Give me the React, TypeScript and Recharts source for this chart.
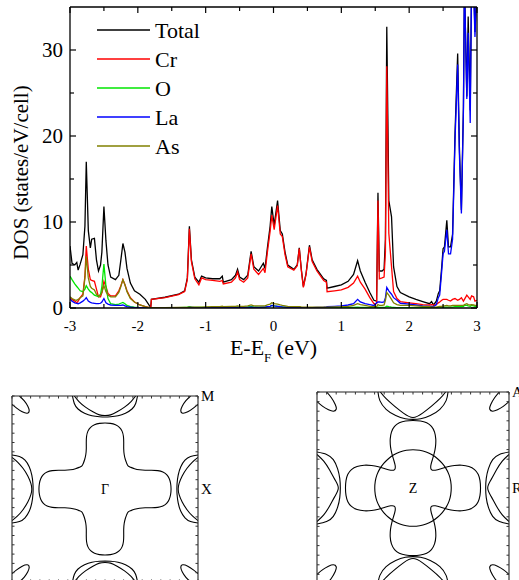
import React from 'react';
import { LineChart, Line, XAxis, YAxis, Legend, ReferenceDot } from 'recharts';

const FONT = '"Liberation Serif", "Times New Roman", serif';

// ---------------- DOS data ----------------
const energy = [
  -3.00, -2.97, -2.93, -2.90, -2.88, -2.85, -2.81, -2.78,
  -2.76, -2.73, -2.70, -2.68, -2.64, -2.61, -2.58, -2.55,
  -2.53, -2.50, -2.47, -2.44, -2.40, -2.33, -2.28, -2.25,
  -2.22, -2.19, -2.16, -2.11, -2.05, -1.97, -1.89, -1.81,
  -1.80, -1.60, -1.40, -1.31, -1.27, -1.24, -1.21, -1.16,
  -1.10, -1.06, -1.00, -0.90, -0.79, -0.755, -0.74, -0.62,
  -0.56, -0.53, -0.50, -0.44, -0.38, -0.33, -0.29, -0.22,
  -0.15, -0.125, -0.09, -0.05, -0.025, 0.01, 0.06, 0.10,
  0.13, 0.17, 0.21, 0.30, 0.35, 0.38, 0.41, 0.44,
  0.48, 0.53, 0.57, 0.64, 0.74, 0.78, 0.79, 0.90,
  1.00, 1.10, 1.18, 1.24, 1.28, 1.35, 1.42, 1.48,
  1.52, 1.54, 1.56, 1.60, 1.63, 1.65, 1.67, 1.70,
  1.74, 1.77, 1.82, 1.87, 2.00, 2.10, 2.20, 2.30,
  2.33, 2.36, 2.40, 2.43, 2.45, 2.48, 2.50, 2.52,
  2.555, 2.58, 2.61, 2.64, 2.676, 2.715, 2.74, 2.77,
  2.80, 2.815, 2.85, 2.87, 2.90, 2.92, 2.95, 2.97,
  3.00,
];

const totalDos = [
  7.2, 5.2, 5.0, 5.3, 4.4, 5.1, 6.2, 9.5,
  17.0, 9.0, 7.0, 8.0, 8.1, 5.6, 4.3, 5.0,
  6.5, 11.8, 7.8, 5.0, 3.6, 3.3, 3.8, 5.6,
  7.5, 6.5, 4.6, 2.9, 2.0, 1.6, 1.0, 0.05,
  1.0, 1.25, 1.6, 2.0, 3.5, 9.5, 5.6, 3.6,
  3.0, 3.7, 3.5, 3.4, 3.4, 3.7, 3.0, 3.3,
  3.8, 4.5, 3.6, 3.3, 3.8, 6.6, 4.8, 4.3,
  5.2, 4.6, 7.0, 9.5, 11.8, 9.6, 12.5, 9.0,
  8.6, 6.5, 5.0, 4.5, 5.0, 7.0, 4.5, 2.5,
  4.0, 7.3, 5.6, 4.5, 3.4, 3.2, 2.3, 2.5,
  2.7, 3.1, 3.9, 5.5, 4.3, 3.0, 1.8, 0.9,
  0.8, 13.4, 4.3, 4.3, 4.5, 8.0, 32.7, 12.5,
  10.6, 4.8, 2.5, 1.8, 1.3, 1.0, 0.75, 0.5,
  0.75, 0.35, 0.8, 1.7, 2.0, 4.8, 6.9, 7.1,
  10.2, 7.1, 7.1, 8.6, 20.3, 29.6, 18.8, 11.4,
  23.4, 38, 24.6, 33.9, 23.0, 38, 38, 32.1,
  38,
];

const crDos = [
  1.2, 1.0, 0.8, 0.6, 0.8, 1.2, 1.6, 3.7,
  7.2, 4.5, 3.3, 3.2, 3.1, 2.2, 1.3, 1.3,
  1.8, 3.1, 2.5, 1.7, 1.4, 1.4, 2.0, 2.6,
  3.3, 2.7, 2.0, 1.2, 0.7, 0.35, 0.15, 0.02,
  1.0, 1.2, 1.55, 1.9, 3.3, 9.2, 5.4, 3.4,
  2.7, 3.5, 3.3, 3.2, 3.1, 3.2, 2.8, 3.0,
  3.5, 4.2, 3.3, 3.0, 3.5, 6.3, 4.5, 3.9,
  4.6, 4.1, 6.5, 8.9, 10.8, 9.1, 11.9, 8.6,
  8.3, 6.2, 4.8, 4.4, 4.9, 6.9, 4.4, 2.4,
  3.9, 7.1, 5.4, 4.3, 3.2, 3.0, 1.9, 2.0,
  2.1, 2.4, 2.9, 3.7, 3.0, 2.2, 1.2, 0.5,
  0.5, 12.5, 3.4, 3.5, 3.6, 6.5, 28.1, 8.7,
  4.8, 1.9, 1.1, 0.75, 0.6, 0.5, 0.4, 0.35,
  0.4, 0.35, 0.4, 0.6, 0.7, 0.9, 1.0, 1.0,
  1.0, 0.9, 0.8, 1.0, 1.1, 0.9, 1.0, 1.2,
  0.8, 1.0, 1.5, 1.3, 1.0, 1.4, 1.3, 0.8,
  0.9,
];

const oDos = [
  3.7, 3.3, 2.8, 2.5, 2.3, 2.0, 1.9, 2.2,
  2.6, 2.2, 1.9, 1.8, 1.5, 1.4, 1.3, 1.6,
  2.5, 5.1, 2.5, 1.1, 0.5, 0.4, 0.45, 0.55,
  0.65, 0.5, 0.3, 0.15, 0.1, 0.05, 0.02, 0.0,
  0.02, 0.03, 0.05, 0.08, 0.1, 0.15, 0.1, 0.08,
  0.07, 0.07, 0.07, 0.07, 0.08, 0.1, 0.08, 0.1,
  0.1, 0.12, 0.1, 0.1, 0.12, 0.15, 0.12, 0.1,
  0.1, 0.1, 0.15, 0.2, 0.3, 0.25, 0.2, 0.15,
  0.12, 0.1, 0.08, 0.06, 0.06, 0.06, 0.05, 0.05,
  0.05, 0.05, 0.05, 0.05, 0.05, 0.05, 0.05, 0.05,
  0.05, 0.06, 0.08, 0.1, 0.08, 0.06, 0.05, 0.04,
  0.04, 0.1, 0.08, 0.08, 0.08, 0.1, 0.2, 0.15,
  0.1, 0.08, 0.05, 0.05, 0.04, 0.04, 0.04, 0.04,
  0.05, 0.05, 0.05, 0.1, 0.1, 0.1, 0.1, 0.1,
  0.1, 0.1, 0.1, 0.1, 0.15, 0.15, 0.15, 0.15,
  0.2, 0.3, 0.3, 0.25, 0.2, 0.3, 0.25, 0.2,
  0.2,
];

const laDos = [
  1.05, 0.8, 0.6, 0.55, 0.5, 0.6, 0.8, 1.0,
  1.2, 0.8, 0.65, 0.6, 0.55, 0.5, 0.5, 0.55,
  0.7, 1.1, 0.6, 0.45, 0.35, 0.3, 0.3, 0.3,
  0.35, 0.25, 0.15, 0.1, 0.05, 0.03, 0.02, 0.0,
  0.02, 0.03, 0.04, 0.05, 0.05, 0.06, 0.06, 0.05,
  0.05, 0.05, 0.05, 0.05, 0.06, 0.06, 0.06, 0.07,
  0.08, 0.08, 0.08, 0.08, 0.08, 0.1, 0.08, 0.08,
  0.1, 0.1, 0.15, 0.2, 0.3, 0.25, 0.2, 0.15,
  0.12, 0.1, 0.08, 0.06, 0.06, 0.06, 0.05, 0.05,
  0.05, 0.05, 0.05, 0.07, 0.1, 0.12, 0.15, 0.2,
  0.25, 0.35, 0.5, 1.0, 0.7, 0.5, 0.4, 0.3,
  0.6, 0.7, 0.7, 0.65, 0.7, 1.2, 2.4, 2.0,
  1.6, 1.2, 0.9, 0.55, 0.45, 0.35, 0.25, 0.2,
  0.2, 0.15, 0.4, 1.2, 1.5, 4.3, 6.3, 6.6,
  9.1, 6.3, 6.3, 8.0, 19.5, 28.3, 18.0, 11.0,
  23.0, 38, 24.3, 32.0, 21.5, 38, 37, 31.5,
  38,
];

const asDos = [
  1.3, 1.1, 0.95, 0.9, 1.0, 1.2, 1.4, 3.5,
  6.0, 3.5, 2.5, 2.3, 2.1, 1.6, 1.4, 1.5,
  1.8, 2.6, 1.9, 1.5, 1.3, 1.3, 1.8, 2.5,
  3.3, 2.7, 1.9, 1.1, 0.7, 0.35, 0.15, 0.02,
  0.03, 0.05, 0.07, 0.08, 0.08, 0.1, 0.1, 0.1,
  0.1, 0.1, 0.12, 0.15, 0.15, 0.2, 0.15, 0.2,
  0.2, 0.25, 0.2, 0.2, 0.25, 0.35, 0.25, 0.25,
  0.25, 0.25, 0.35, 0.45, 0.6, 0.5, 0.45, 0.35,
  0.3, 0.25, 0.2, 0.15, 0.15, 0.15, 0.12, 0.1,
  0.1, 0.1, 0.1, 0.1, 0.1, 0.1, 0.1, 0.12,
  0.15, 0.2, 0.3, 0.5, 0.4, 0.3, 0.2, 0.15,
  0.15, 0.4, 0.3, 0.3, 0.35, 0.9, 1.8, 1.5,
  1.0, 0.6, 0.4, 0.3, 0.3, 0.25, 0.2, 0.15,
  0.1, 0.1, 0.1, 0.15, 0.2, 0.2, 0.25, 0.25,
  0.3, 0.25, 0.25, 0.3, 0.3, 0.3, 0.3, 0.3,
  0.3, 0.4, 0.5, 0.4, 0.35, 0.4, 0.35, 0.3,
  0.3,
];

const xMajorTicks = [-3, -2, -1, 0, 1, 2, 3];
const xMinorTicks = [-2.5, -1.5, -0.5, 0.5, 1.5, 2.5];
const yMajorTicks = [0, 10, 20, 30];
const yMinorTicks = [5, 15, 25];

const seriesList = [
  { key: 'total', name: 'Total', color: '#000000' },
  { key: 'cr', name: 'Cr', color: '#ff0000' },
  { key: 'o', name: 'O', color: '#00e600' },
  { key: 'la', name: 'La', color: '#0000ff' },
  { key: 'as', name: 'As', color: '#808000' },
];

const dosData = energy.map((e, i) => ({
  e,
  total: totalDos[i],
  cr: crDos[i],
  o: oDos[i],
  la: laDos[i],
  as: asDos[i],
}));

const xTicksAll = [...xMajorTicks, ...xMinorTicks].sort((a, b) => a - b);
const yTicksAll = [...yMajorTicks, ...yMinorTicks].sort((a, b) => a - b);

// ---------------- Fermi surface data (first quadrant / half contours) ----------------
const panelTicks = [
  -1, -0.9, -0.8, -0.7, -0.6, -0.5, -0.4, -0.3, -0.2, -0.1, 0,
  0.1, 0.2, 0.3, 0.4, 0.5, 0.6, 0.7, 0.8, 0.9, 1,
];

// Gamma plane
const crossQuadrant = [
  [0.712, 0], [0.707, 0.06], [0.692, 0.115], [0.665, 0.157], [0.625, 0.186],
  [0.57, 0.2], [0.50, 0.202], [0.43, 0.2], [0.37, 0.205], [0.315, 0.218],
  [0.272, 0.235], [0.245, 0.245], [0.235, 0.272], [0.218, 0.315], [0.205, 0.37],
  [0.2, 0.43], [0.202, 0.50], [0.2, 0.57], [0.186, 0.625], [0.157, 0.665],
  [0.115, 0.692], [0.06, 0.707], [0, 0.712],
];
const gSideOuterHalf = [[1, 0.365], [0.92, 0.35], [0.86, 0.31], [0.815, 0.24], [0.787, 0.15], [0.775, 0.06], [0.773, 0]];
const gSideInnerHalf = [[1, 0.34], [0.94, 0.29], [0.88, 0.22], [0.83, 0.14], [0.797, 0.06], [0.787, 0]];
const gTopOuterHalf = [[0.35, 1], [0.33, 0.92], [0.29, 0.86], [0.22, 0.815], [0.14, 0.787], [0.06, 0.777], [0, 0.775]];
const gTopInnerHalf = [[0.33, 1], [0.28, 0.94], [0.21, 0.88], [0.13, 0.83], [0.06, 0.797], [0, 0.79]];
const gCornerPetal = [[0.92, 1], [0.87, 0.95], [0.83, 0.89], [0.815, 0.84], [0.835, 0.815], [0.89, 0.83], [0.95, 0.87], [1, 0.91]];

// Z plane
const circleQuadrant = [
  [0.40, 0], [0.395, 0.07], [0.378, 0.138], [0.348, 0.2], [0.306, 0.257], [0.257, 0.306],
  [0.2, 0.348], [0.138, 0.378], [0.07, 0.395], [0, 0.40],
];
const cloverQuadrant = [
  [0.705, 0], [0.70, 0.08], [0.682, 0.145], [0.645, 0.195], [0.585, 0.228], [0.51, 0.24],
  [0.43, 0.236], [0.36, 0.222], [0.29, 0.2], [0.23, 0.182], [0.185, 0.185], [0.182, 0.23],
  [0.2, 0.29], [0.222, 0.36], [0.236, 0.43], [0.24, 0.51], [0.228, 0.585], [0.195, 0.645],
  [0.145, 0.682], [0.08, 0.70], [0, 0.705],
];
const zSideOuterHalf = [[1, 0.375], [0.90, 0.35], [0.83, 0.295], [0.785, 0.2], [0.763, 0.1], [0.757, 0]];
const zSideInnerHalf = [[1, 0.35], [0.93, 0.28], [0.87, 0.19], [0.815, 0.09], [0.778, 0]];
const zTopOuterHalf = [[0.365, 1], [0.345, 0.91], [0.28, 0.82], [0.18, 0.755], [0.08, 0.722], [0, 0.715]];
const zTopInnerHalf = [[0.34, 1], [0.28, 0.93], [0.19, 0.85], [0.1, 0.78], [0, 0.735]];
const zCornerPetal = [[0.90, 1], [0.85, 0.94], [0.81, 0.87], [0.80, 0.82], [0.83, 0.80], [0.88, 0.815], [0.94, 0.85], [1, 0.90]];

type Pt = number[];

const closedFromQuadrant = (q: Pt[]): Pt[] => {
  const a = q.map(([u, v]) => [u, v]);
  const b = q.slice().reverse().slice(1).map(([u, v]) => [-u, v]);
  const c = q.slice(1).map(([u, v]) => [-u, -v]);
  const d = q.slice().reverse().slice(1, -1).map(([u, v]) => [u, -v]);
  return [...a, ...b, ...c, ...d];
};
const sideArc = (h: Pt[]): Pt[] => [...h, ...h.slice().reverse().slice(1).map(([u, v]) => [u, -v])];
const topArc = (h: Pt[]): Pt[] => [...h, ...h.slice().reverse().slice(1).map(([u, v]) => [-u, v])];
const flipU = (p: Pt[]): Pt[] => p.map(([u, v]) => [-u, v]);
const flipV = (p: Pt[]): Pt[] => p.map(([u, v]) => [u, -v]);

type Curve = { pts: Pt[]; closed: boolean };

const pocketSet = (sideOuter: Pt[], sideInner: Pt[], topOuter: Pt[], topInner: Pt[], petal: Pt[]): Curve[] => {
  const res: Curve[] = [];
  [sideArc(sideOuter), sideArc(sideInner)].forEach((a) => {
    res.push({ pts: a, closed: false });
    res.push({ pts: flipU(a), closed: false });
  });
  [topArc(topOuter), topArc(topInner)].forEach((a) => {
    res.push({ pts: a, closed: false });
    res.push({ pts: flipV(a), closed: false });
  });
  [petal, flipU(petal), flipV(petal), flipU(flipV(petal))].forEach((a) => res.push({ pts: a, closed: false }));
  return res;
};

const gammaCurves: Curve[] = [
  { pts: closedFromQuadrant(crossQuadrant), closed: true },
  ...pocketSet(gSideOuterHalf, gSideInnerHalf, gTopOuterHalf, gTopInnerHalf, gCornerPetal),
];
const zCurves: Curve[] = [
  { pts: closedFromQuadrant(cloverQuadrant), closed: true },
  { pts: closedFromQuadrant(circleQuadrant), closed: true },
  ...pocketSet(zSideOuterHalf, zSideInnerHalf, zTopOuterHalf, zTopInnerHalf, zCornerPetal),
];

const gammaLabels = [
  { u: 0, v: 0, text: 'Γ', side: 'center' },
  { u: 1, v: 0, text: 'X', side: 'right' },
  { u: 1, v: 1, text: 'M', side: 'right' },
];
const zLabels = [
  { u: 0, v: 0, text: 'Z', side: 'center' },
  { u: 1, v: 0, text: 'R', side: 'right' },
  { u: 1, v: 1, text: 'A', side: 'right' },
];

// ---------------- tick renderers ----------------
const TICK_STROKE = '#000';

const BottomTick = (props: any) => {
  const { x, y, payload } = props;
  const major = xMajorTicks.includes(payload.value);
  return (
    <g>
      <line x1={x} x2={x} y1={y} y2={y - (major ? 6 : 4)} stroke={TICK_STROKE} strokeWidth={1.2} />
      {major && (
        <text x={x} y={y + 23} textAnchor="middle" fontSize={15} fontFamily={FONT} fill="#000">
          {String(payload.value)}
        </text>
      )}
    </g>
  );
};
const TopTick = (props: any) => {
  const { x, y, payload } = props;
  const major = xMajorTicks.includes(payload.value);
  return <line x1={x} x2={x} y1={y} y2={y + (major ? 6 : 4)} stroke={TICK_STROKE} strokeWidth={1.2} />;
};
const LeftTick = (props: any) => {
  const { x, y, payload } = props;
  const major = yMajorTicks.includes(payload.value);
  return (
    <g>
      <line x1={x} x2={x + (major ? 6 : 4)} y1={y} y2={y} stroke={TICK_STROKE} strokeWidth={1.2} />
      {major && (
        <text x={x - 7} y={y} dy="0.34em" textAnchor="end" fontSize={21} fontFamily={FONT} fill="#000">
          {String(payload.value)}
        </text>
      )}
    </g>
  );
};
const RightTick = (props: any) => {
  const { x, y, payload } = props;
  const major = yMajorTicks.includes(payload.value);
  return <line x1={x} x2={x - (major ? 6 : 4)} y1={y} y2={y} stroke={TICK_STROKE} strokeWidth={1.2} />;
};

const YTitle = (props: any) => {
  const { viewBox } = props;
  const cx = viewBox.x + 28;
  const cy = viewBox.y + viewBox.height / 2 + 15;
  return (
    <text x={cx} y={cy} transform={`rotate(-90, ${cx}, ${cy})`} textAnchor="middle" fontSize={21} fontFamily={FONT} fill="#000">
      DOS (states/eV/cell)
    </text>
  );
};
const XTitle = (props: any) => {
  const { viewBox } = props;
  const cx = viewBox.x + viewBox.width / 2;
  const cy = viewBox.y + 47;
  return (
    <text x={cx} y={cy} textAnchor="middle" fontSize={22} fontFamily={FONT} fill="#000">
      <tspan>E-E</tspan>
      <tspan fontSize={13} dy={7}>F</tspan>
      <tspan dy={-7}> (eV)</tspan>
    </text>
  );
};

const LegendBox = () => (
  <div style={{ display: 'flex', flexDirection: 'column' }}>
    {seriesList.map((s) => (
      <div key={s.key} style={{ display: 'flex', alignItems: 'center', height: 29 }}>
        <svg width={53} height={4} style={{ display: 'block' }}>
          <line x1={0} x2={53} y1={2} y2={2} stroke={s.color} strokeWidth={1.6} />
        </svg>
        <span style={{ marginLeft: 5, fontSize: 22, fontFamily: FONT, color: '#000', lineHeight: '25px' }}>{s.name}</span>
      </div>
    ))}
  </div>
);

// ---------------- Fermi panel ----------------
const PanelTick = (props: any) => {
  const { x, y, side } = props;
  const len = 2.5;
  let x2 = x, y2 = y;
  if (side === 'bottom') y2 = y - len;
  if (side === 'top') y2 = y + len;
  if (side === 'left') x2 = x + len;
  if (side === 'right') x2 = x - len;
  return <line x1={x} y1={y} x2={x2} y2={y2} stroke="#333" strokeWidth={1} />;
};

const PanelLabel = (props: any) => {
  const { viewBox, text, side } = props;
  const cx = viewBox.x + viewBox.width / 2;
  const cy = viewBox.y + viewBox.height / 2;
  const right = side === 'right';
  return (
    <text x={right ? cx + 3 : cx} y={cy} dy="0.34em" textAnchor={right ? 'start' : 'middle'}
      fontSize={right ? 15 : 14} fontFamily={FONT} fill="#000">
      {text}
    </text>
  );
};

function FermiPanel({ curves, labels, width, height, margin }: any) {
  const axisLine = { stroke: '#222', strokeWidth: 1.1 };
  return (
    <LineChart width={width} height={height} margin={margin}>
      <XAxis xAxisId="b" type="number" dataKey="u" domain={[-1, 1]} ticks={panelTicks} interval={0} height={1}
        axisLine={axisLine} tickLine={false} tickSize={0} tickMargin={0} tick={<PanelTick side="bottom" />} allowDataOverflow />
      <XAxis xAxisId="t" orientation="top" type="number" dataKey="u" domain={[-1, 1]} ticks={panelTicks} interval={0} height={1}
        axisLine={axisLine} tickLine={false} tickSize={0} tickMargin={0} tick={<PanelTick side="top" />} allowDataOverflow />
      <YAxis yAxisId="l" type="number" domain={[-1, 1]} ticks={panelTicks} interval={0} width={1}
        axisLine={axisLine} tickLine={false} tickSize={0} tickMargin={0} tick={<PanelTick side="left" />} allowDataOverflow />
      <YAxis yAxisId="r" orientation="right" type="number" domain={[-1, 1]} ticks={panelTicks} interval={0} width={1}
        axisLine={axisLine} tickLine={false} tickSize={0} tickMargin={0} tick={<PanelTick side="right" />} allowDataOverflow />
      {curves.map((c: Curve, i: number) => (
        <Line key={i} xAxisId="b" yAxisId="l" data={c.pts.map(([u, v]) => ({ u, v }))} dataKey="v"
          type={c.closed ? 'basisClosed' : 'natural'} stroke="#000" strokeWidth={1.1} dot={false}
          activeDot={false} isAnimationActive={false} />
      ))}
      {labels.map((l: any) => (
        <ReferenceDot key={l.text} xAxisId="b" yAxisId="l" x={l.u} y={l.v} r={0} fill="none" stroke="none"
          ifOverflow="visible" label={<PanelLabel text={l.text} side={l.side} />} />
      ))}
    </LineChart>
  );
}

export default function App() {
  const axisLine = { stroke: '#000', strokeWidth: 1.3 };
  return (
    <div style={{ position: 'absolute', left: 0, top: 0, width: 519, height: 580, overflow: 'hidden', background: '#fff' }}>
      <div style={{ position: 'absolute', left: 0, top: 0 }}>
        <LineChart width={519} height={380} data={dosData} margin={{ top: 6, right: 41, bottom: 42, left: 0 }}>
          <XAxis type="number" dataKey="e" domain={[-3, 3]} ticks={xTicksAll} interval={0} height={30}
            axisLine={axisLine} tickLine={false} tickSize={0} tickMargin={0} tick={<BottomTick />}
            allowDataOverflow label={<XTitle />} />
          <XAxis xAxisId="top" orientation="top" type="number" dataKey="e" domain={[-3, 3]} ticks={xTicksAll} interval={0}
            height={1} axisLine={axisLine} tickLine={false} tickSize={0} tickMargin={0} tick={<TopTick />} allowDataOverflow />
          <YAxis type="number" domain={[0, 35]} ticks={yTicksAll} interval={0} width={70}
            axisLine={axisLine} tickLine={false} tickSize={0} tickMargin={0} tick={<LeftTick />}
            allowDataOverflow label={<YTitle />} />
          <YAxis yAxisId="right" orientation="right" type="number" domain={[0, 35]} ticks={yTicksAll} interval={0}
            width={1} axisLine={axisLine} tickLine={false} tickSize={0} tickMargin={0} tick={<RightTick />} allowDataOverflow />
          {seriesList.map((s) => (
            <Line key={s.key} dataKey={s.key} name={s.name} type="linear" stroke={s.color} strokeWidth={1.3}
              dot={false} activeDot={false} isAnimationActive={false} />
          ))}
          <Legend layout="vertical" align="center" verticalAlign="middle"
            wrapperStyle={{ left: 97, top: 15.5, width: 130, height: 150 }} content={() => <LegendBox />} />
        </LineChart>
      </div>
      <div style={{ position: 'absolute', left: 0, top: 386 }}>
        <FermiPanel curves={gammaCurves} labels={gammaLabels} width={230} height={200}
          margin={{ top: 9, left: 11, right: 31, bottom: 3 }} />
      </div>
      <div style={{ position: 'absolute', left: 300, top: 382 }}>
        <FermiPanel curves={zCurves} labels={zLabels} width={219} height={210}
          margin={{ top: 9, left: 16, right: 9, bottom: 7 }} />
      </div>
    </div>
  );
}
